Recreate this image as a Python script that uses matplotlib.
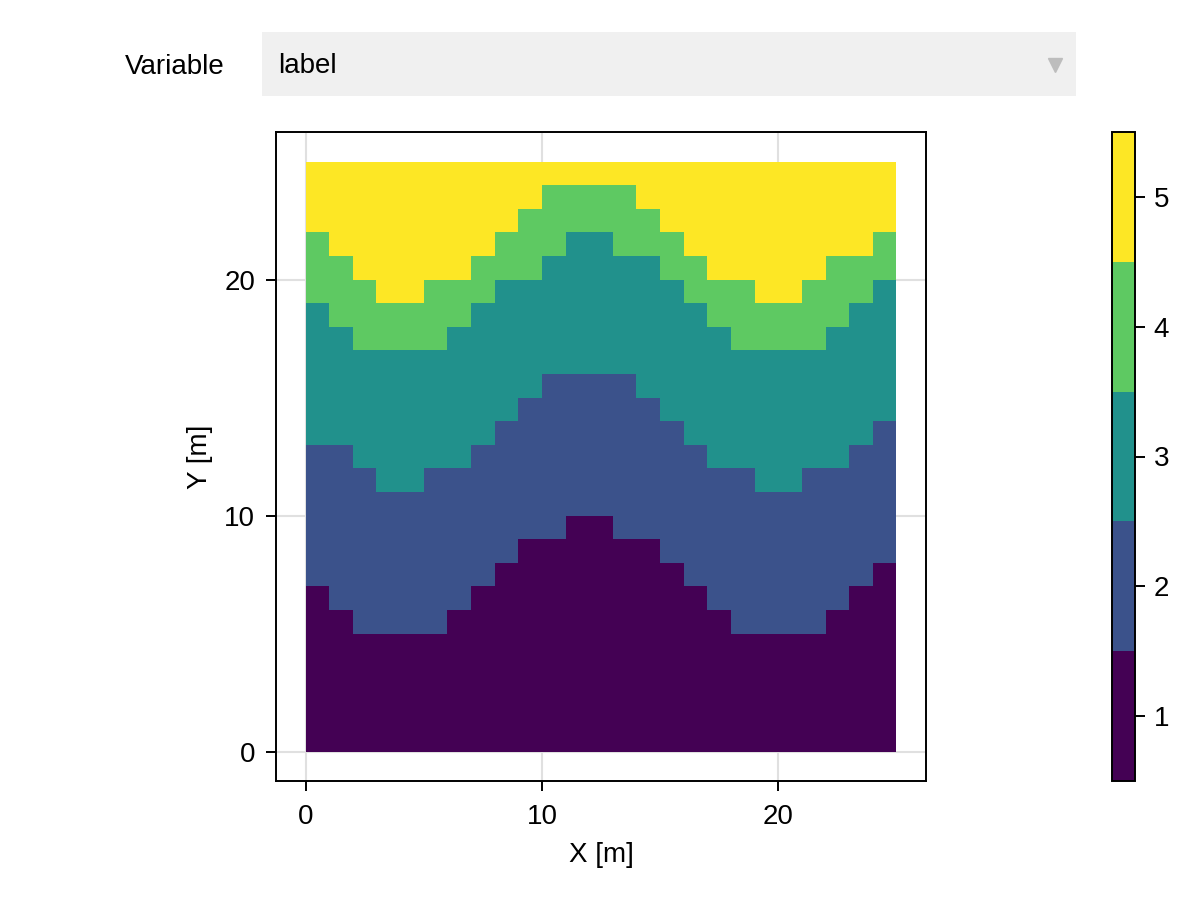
import matplotlib
matplotlib.use("Agg")
import matplotlib.pyplot as plt
from matplotlib.colors import ListedColormap, BoundaryNorm
import numpy as np

plt.rcParams['font.family'] = ['Liberation Sans', 'DejaVu Sans']
plt.rcParams['font.size'] = 20

# upper edge (in cells) of each label, one entry per column x = 0..24
top_1 = [7, 6, 5, 5, 5, 5, 6, 7, 8, 9, 9, 10, 10, 9, 9, 8, 7, 6, 5, 5, 5, 5, 6, 7, 8]
top_2 = [13, 13, 12, 11, 11, 12, 12, 13, 14, 15, 16, 16, 16, 16, 15, 14, 13, 12, 12, 11, 11, 12, 12, 13, 14]
top_3 = [19, 18, 17, 17, 17, 17, 18, 19, 20, 20, 21, 22, 22, 21, 21, 20, 19, 18, 17, 17, 17, 17, 18, 19, 20]
top_4 = [22, 21, 20, 19, 19, 20, 20, 21, 22, 23, 24, 24, 24, 24, 23, 22, 21, 20, 20, 19, 19, 20, 21, 21, 22]
labels = [1, 2, 3, 4, 5]
colors = ['#440154', '#3b528b', '#21918c', '#5ec962', '#fde725']
nx, ny = 25, 25

grid = np.full((ny, nx), 5)
for col in range(nx):
    for row in range(ny):
        if row < top_1[col]:
            grid[row, col] = 1
        elif row < top_2[col]:
            grid[row, col] = 2
        elif row < top_3[col]:
            grid[row, col] = 3
        elif row < top_4[col]:
            grid[row, col] = 4

fig = plt.figure(figsize=(12, 9), dpi=100)

# dropdown-like header
menu = fig.add_axes([262/1200, 1-96/900, 814/1200, 64/900])
menu.set_facecolor('#f0f0f0')
for s in menu.spines.values():
    s.set_visible(False)
menu.set_xticks([])
menu.set_yticks([])
menu.set_xlim(0, 814)
menu.set_ylim(0, 64)
menu.text(16, 30, 'label', va='center', ha='left')
menu.plot([793], [31], marker='v', color='#bdbdbd', markersize=10)
fig.text(175/1200, 1-67/900, 'Variable', ha='center', va='center')

ax = fig.add_axes([276/1200, 1-781/900, 650/1200, 649/900])
cmap = ListedColormap(colors)
norm = BoundaryNorm(np.arange(0.5, 6.0, 1.0), cmap.N)
mesh = ax.pcolormesh(np.arange(nx+1), np.arange(ny+1), grid, cmap=cmap, norm=norm, zorder=2)
ax.set_xlim(-1.25, 26.25)
ax.set_ylim(-1.25, 26.25)
ax.set_xticks([0, 10, 20])
ax.set_yticks([0, 10, 20])
ax.grid(True, color='#e0e0e0', linewidth=1.5, zorder=0)
ax.set_axisbelow(True)
ax.tick_params(direction='out', length=7.5, width=1.4)
ax.tick_params(axis='x', pad=9)
ax.tick_params(axis='y', pad=7.5)
for s in ax.spines.values():
    s.set_linewidth(1.4)
ax.set_xlabel('X [m]', labelpad=8.5)
ax.set_ylabel('Y [m]', labelpad=8)

cax = fig.add_axes([1112/1200, 1-781/900, 23/1200, 649/900])
cb = fig.colorbar(mesh, cax=cax, ticks=labels)
cb.outline.set_linewidth(1.4)
cax.minorticks_off()
cax.tick_params(direction='out', length=7.5, width=1.4, pad=6)

fig.savefig('out.png', dpi=100)
